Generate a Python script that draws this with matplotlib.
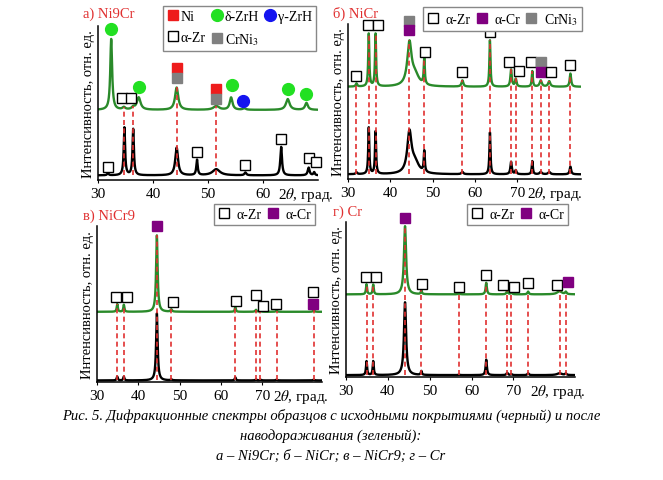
import numpy as np
import matplotlib
matplotlib.use('Agg')
import matplotlib.pyplot as plt
from matplotlib.lines import Line2D

plt.rcParams['font.family'] = ['Liberation Serif', 'DejaVu Serif']
plt.rcParams['mathtext.fontset'] = 'stix'

# ---- peak tables (2theta, height, half width) ----
# a) Ni9Cr
a_black_pos = [31.8, 34.8, 36.4, 44.3, 48.0, 51.5, 56.8, 63.3, 68.3, 69.3]
a_black_h = [1.5, 31, 30, 18, 10, 4, 1.8, 18.5, 5, 2]
a_black_w = [0.15, 0.15, 0.15, 0.3, 0.15, 0.8, 0.2, 0.18, 0.2, 0.15]
a_green_pos = [32.4, 34.7, 36.4, 37.4, 44.3, 51.5, 54.2, 56.6, 64.5, 67.9]
a_green_h = [46, 1.5, 1.5, 8, 14.5, 2.5, 8, 1, 7, 4.5]
a_green_w = [0.2, 0.3, 0.3, 0.4, 0.35, 0.6, 0.3, 0.3, 0.4, 0.3]
a_base = [3, 45.5]
a_refs = [34.8, 36.4, 44.3, 51.5]
a_mark_phase = ['dZrH', 'aZr', 'aZr', 'dZrH', 'Ni', 'CrNi3', 'Ni', 'CrNi3', 'dZrH', 'gZrH',
                'dZrH', 'dZrH', 'aZr', 'aZr', 'aZr', 'aZr', 'aZr', 'aZr']
a_mark_x = [32.4, 34.4, 36.0, 37.5, 44.3, 44.3, 51.5, 51.5, 54.3, 56.3,
            64.5, 67.9, 31.9, 48.0, 56.8, 63.3, 68.3, 69.6]
a_mark_y = [98, 53, 53, 60.7, 73, 66.5, 59, 52.5, 62, 51,
            59.4, 55.7, 8.6, 18.4, 10, 26.6, 14.3, 11.4]

# б) NiCr
b_pos = [32.0, 34.9, 36.5, 44.5, 45.8, 48.0, 57.0, 63.5, 68.5, 69.6, 73.5, 75.5, 77.5, 82.5]
b_black_h = [1.2, 30, 27.5, 26, 7, 13.5, 1.5, 27, 8, 2.5, 8.5, 1.5, 1.5, 5]
b_green_h = [2, 34, 34, 27, 7, 17, 4, 30, 11, 5, 10, 4, 3.5, 8.5]
b_w = [0.2, 0.15, 0.15, 0.6, 1.1, 0.15, 0.25, 0.15, 0.2, 0.2, 0.15, 0.3, 0.3, 0.2]
b_base = [3, 59.5]
b_refs = [32.0, 34.9, 36.5, 44.5, 48.0, 57.0, 63.5, 68.5, 69.6, 73.5, 75.5, 77.5, 82.5]
b_mark_phase = ['aZr', 'aZr', 'aZr', 'CrNi3', 'aCr', 'aZr', 'aZr', 'aZr', 'aZr', 'aZr',
                'aZr', 'CrNi3', 'aCr', 'aZr', 'aZr']
b_mark_x = [32.0, 34.7, 37.1, 44.5, 44.5, 48.2, 57.0, 63.5, 68.1, 70.4,
            73.2, 75.5, 75.5, 78.0, 82.3]
b_mark_y = [66.2, 99.4, 99.4, 102, 96.3, 81.7, 69.2, 94.6, 75.7, 69.9,
            75.3, 75.3, 68.8, 69.2, 73.5]

# в) NiCr9
c_pos = [34.9, 36.5, 44.5, 48.0, 63.5, 68.5, 69.6, 73.5, 82.5]
c_black_h = [2.5, 2.5, 43, 0.6, 2, 0.6, 0.4, 0.5, 0.5]
c_green_h = [5, 4.5, 49, 1.5, 3, 1.3, 0.6, 0.8, 1]
c_w = [0.15, 0.15, 0.22, 0.2, 0.15, 0.2, 0.2, 0.2, 0.2]
c_base = [1, 45]
c_refs = c_pos
c_mark_phase = ['aZr', 'aZr', 'aCr', 'aZr', 'aZr', 'aZr', 'aZr', 'aZr', 'aZr', 'aCr']
c_mark_x = [34.7, 37.3, 44.5, 48.4, 63.6, 68.5, 70.3, 73.3, 82.2, 82.2]
c_mark_y = [54.5, 54.5, 100, 51.3, 52, 55.8, 48.7, 49.8, 58, 50.2]

# г) Cr
d_pos = [34.9, 36.5, 44.1, 48.0, 57.0, 63.5, 68.5, 69.5, 73.5, 81.0, 82.5]
d_black_h = [9, 9, 47, 2.5, 0.3, 10, 1.5, 0.6, 1.2, 1.2, 1]
d_green_h = [6.5, 6.3, 44, 2.5, 0.8, 7.5, 2.2, 1.2, 1.8, 2, 1.5]
d_w = [0.15, 0.15, 0.3, 0.15, 0.2, 0.18, 0.2, 0.2, 0.2, 0.7, 0.2]
d_base = [1.2, 53.3]
d_refs = d_pos
d_mark_phase = ['aZr', 'aZr', 'aCr', 'aZr', 'aZr', 'aZr', 'aZr', 'aZr', 'aZr', 'aZr', 'aCr']
d_mark_x = [34.7, 37.2, 44.1, 48.2, 57.1, 63.5, 67.6, 70.1, 73.5, 80.5, 83.0]
d_mark_y = [64.8, 64.8, 102.8, 60, 58.3, 66.1, 59.6, 57.9, 60.5, 59.6, 61.1]

titles = ['а) Ni9Cr', 'б) NiCr', 'в) NiCr9', 'г) Cr']
caption = ['Рис. 5. Дифракционные спектры образцов с исходными покрытиями (черный) и после',
           'наводораживания (зеленый):',
           'а – Ni9Cr; б – NiCr; в – NiCr9; г – Cr']

style = {
    'Ni': dict(marker='s', mfc='#ee1c1c', mec='#ee1c1c', ms=7),
    'dZrH': dict(marker='o', mfc='#22e022', mec='#22e022', ms=8.5),
    'gZrH': dict(marker='o', mfc='#1414f0', mec='#1414f0', ms=8.5),
    'aZr': dict(marker='s', mfc='white', mec='black', ms=7, mew=1.0),
    'CrNi3': dict(marker='s', mfc='#808080', mec='#808080', ms=7),
    'aCr': dict(marker='s', mfc='#800080', mec='#800080', ms=7),
}
label = {'Ni': 'Ni', 'dZrH': 'δ-ZrH', 'gZrH': 'γ-ZrH', 'aZr': 'α-Zr',
         'CrNi3': 'CrNi$_3$', 'aCr': 'α-Cr'}

W, H = 663, 481
fig = plt.figure(figsize=(W / 100, H / 100), dpi=100)
RED = '#e03030'
GREEN = '#2a8a2a'


def profile(x, pos, h, w, base):
    y = np.full_like(x, base, dtype=float)
    for c, hh, ww in zip(pos, h, w):
        y += hh * ww ** 2 / ((x - c) ** 2 + ww ** 2)
    return y


def panel(box, xlim, ticks, xlab_at, black, green, base, refs, mph, mx, my, leg, legbox, tpad):
    l, t, r, b = box
    ax = fig.add_axes([l / W, 1 - b / H, (r - l) / W, (b - t) / H])
    x = np.linspace(xlim[0], xlim[1], 3000)
    yb = profile(x, *black, base[0])
    yg = profile(x, *green, base[1])
    ax.plot(x, yb, color='black', lw=1.7, zorder=2)
    ax.plot(x, yg, color=GREEN, lw=1.7, zorder=2)
    for p in refs:
        ax.plot([p, p], [base[0], np.interp(p, x, yg)], color=RED, lw=1.2,
                ls=(0, (3, 2)), zorder=3)
    for ph, xx, yy in zip(mph, mx, my):
        ax.plot([xx], [yy], ls='none', clip_on=False, zorder=5, **style[ph])
    ax.set_xlim(*xlim)
    ax.set_ylim(0, 100)
    ax.set_xticks(ticks)
    ax.set_yticks([])
    ax.tick_params(axis='x', length=2, width=0.8, labelsize=11, pad=3)
    for s in ['top', 'right']:
        ax.spines[s].set_visible(False)
    for s in ['left', 'bottom']:
        ax.spines[s].set_linewidth(1.1)
    ax.set_ylabel('Интенсивность, отн. ед.', fontsize=10.5, labelpad=2)
    ax.text(xlab_at, -0.035, '2$\\theta$, град.', transform=ax.get_xaxis_transform(),
            ha='left', va='top', fontsize=11)
    hs = [Line2D([], [], ls='none', **style[k]) for k in leg]
    lg = ax.legend(hs, [label[k] for k in leg], ncol=3 if len(leg) > 3 else len(leg),
                   loc='upper right', bbox_to_anchor=(legbox[0] / W, 1 - legbox[1] / H),
                   bbox_transform=fig.transFigure, borderaxespad=0, fontsize=10,
                   handletextpad=tpad, columnspacing=0.35, handlelength=0.9,
                   borderpad=0.3, labelspacing=0.55, fancybox=False, framealpha=1)
    lg.get_frame().set_edgecolor('#888888')
    lg.get_frame().set_linewidth(1.0)
    return ax


panel((98, 27, 318, 181), (30, 70), [30, 40, 50, 60], 62.7,
      (a_black_pos, a_black_h, a_black_w), (a_green_pos, a_green_h, a_green_w),
      a_base, a_refs, a_mark_phase, a_mark_x, a_mark_y,
      ['Ni', 'aZr', 'dZrH', 'CrNi3', 'gZrH'], (316, 7), 0.1)
panel((348, 25, 581, 180), (30, 85), [30, 40, 50, 60, 70], 72.2,
      (b_pos, b_black_h, b_w), (b_pos, b_green_h, b_w),
      b_base, b_refs, b_mark_phase, b_mark_x, b_mark_y,
      ['aZr', 'aCr', 'CrNi3'], (582, 8), 0.45)
panel((97, 227, 322, 383), (30, 84.5), [30, 40, 50, 60, 70], 72.6,
      (c_pos, c_black_h, c_w), (c_pos, c_green_h, c_w),
      c_base, c_refs, c_mark_phase, c_mark_x, c_mark_y,
      ['aZr', 'aCr'], (315, 205), 0.45)
panel((346, 223, 575, 378), (30, 84.7), [30, 40, 50, 60, 70], 73.9,
      (d_pos, d_black_h, d_w), (d_pos, d_green_h, d_w),
      d_base, d_refs, d_mark_phase, d_mark_x, d_mark_y,
      ['aZr', 'aCr'], (568, 205), 0.45)

for txt, (tx, ty) in zip(titles, [(83, 14), (333, 14), (83, 216), (333, 212)]):
    fig.text(tx / W, 1 - ty / H, txt, color=RED, fontsize=10.5, ha='left', va='center')

for txt, ty in zip(caption, [416, 436, 456]):
    fig.text(331 / W, 1 - ty / H, txt, style='italic', fontsize=10.5, ha='center', va='center')

fig.savefig('out.png', dpi=100)
